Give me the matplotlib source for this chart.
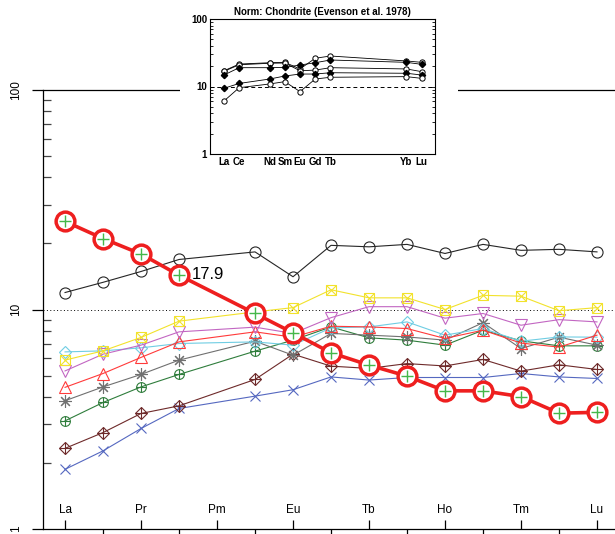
import matplotlib.pyplot as plt
from matplotlib.patches import Rectangle
from matplotlib.ticker import LogLocator, NullFormatter

plt.rcParams['font.family'] = ['Liberation Sans', 'DejaVu Sans']

# REE series; Pm is not analysed so it only gets a tick
elements = ['La', 'Ce', 'Pr', 'Nd', 'Pm', 'Sm', 'Eu', 'Gd', 'Tb', 'Dy', 'Ho', 'Er', 'Tm', 'Yb', 'Lu']
analysed = ['La', 'Ce', 'Pr', 'Nd', 'Sm', 'Eu', 'Gd', 'Tb', 'Dy', 'Ho', 'Er', 'Tm', 'Yb', 'Lu']
labelled = ['La', 'Pr', 'Pm', 'Eu', 'Tb', 'Ho', 'Tm', 'Lu']

# chondrite-normalised values, one list per sample (order = analysed)
s_black = [11.95, 13.3, 14.9, 16.9, 18.3, 14.1, 19.6, 19.3, 19.8, 18.0, 19.8, 18.6, 18.8, 18.3]
s_yellow = [5.88, 6.48, 7.46, 8.85, 9.75, 10.2, 12.3, 11.3, 11.3, 10.0, 11.6, 11.5, 9.87, 10.2]
s_magenta = [5.25, 6.26, 6.88, 7.91, 8.31, 7.78, 9.18, 10.3, 10.3, 9.13, 9.59, 8.48, 8.99, 8.78]
s_red = [4.42, 5.11, 6.05, 7.12, 7.91, 7.48, 8.39, 8.33, 8.19, 7.38, 8.05, 7.03, 6.74, 7.64]
s_cyan = [6.41, 6.48, 6.69, 7.0, 7.12, 6.88, 8.25, 8.33, 8.78, 7.64, 8.19, 7.17, 7.5, 7.48]
s_gray = [3.84, 4.44, 5.06, 5.88, 7.17, 6.19, 7.78, 7.64, 7.5, 7.25, 8.71, 6.64, 7.48, 6.88]
s_green = [3.11, 3.77, 4.44, 5.06, 6.46, 7.25, 8.33, 7.43, 7.25, 6.88, 8.05, 7.2, 6.83, 6.83]
s_maroon = [2.33, 2.75, 3.36, 3.64, 4.8, 6.26, 5.52, 5.39, 5.67, 5.53, 5.92, 5.24, 5.6, 5.33]
s_blue = [1.87, 2.27, 2.87, 3.54, 4.03, 4.31, 4.93, 4.77, 4.9, 4.9, 4.9, 5.11, 4.93, 4.85]
s_hl = [25.2, 21.05, 17.9, 14.33, 9.59, 7.83, 6.35, 5.58, 4.97, 4.26, 4.26, 4.01, 3.37, 3.4]

# small reference diagram (Evensen chondrite)
ins_labels = ['La', 'Ce', 'Nd', 'Sm', 'Eu', 'Gd', 'Tb', 'Yb', 'Lu']
ins_pos = [0, 1, 3, 4, 5, 6, 7, 12, 13]
ins_a = [17.1, 21.5, 22.5, 22.8, 18.2, 26.2, 28.3, 23.9, 22.8]
ins_b = [14.8, 19.0, 19.0, 19.2, 20.8, 22.5, 24.7, 22.8, 21.3]
ins_c = [9.4, 11.1, 12.9, 14.3, 15.3, 15.3, 16.0, 15.7, 14.8]
ins_d = [6.1, 9.6, 10.9, 11.8, 8.4, 12.9, 13.7, 14.0, 13.2]
ins_e = [16.8, 21.0, 22.1, 22.3, 17.1, 17.5, 19.0, 18.2, 16.6]

x_of = {el: i for i, el in enumerate(elements)}
xs = [x_of[el] for el in analysed]

fig = plt.figure(figsize=(6.15, 5.34), dpi=100)
ax = fig.add_axes([43 / 615, 5 / 534, 592 / 615, 439 / 534])
ax.set_yscale('log')
ax.set_ylim(1, 100)
ax.set_xlim(-0.58, 15.0)
for sp in ax.spines.values():
    sp.set_linewidth(0.9)

ax.set_yticks([1, 10, 100])
ax.set_yticklabels(['1', '10', '100'])
ax.yaxis.set_minor_locator(LogLocator(base=10, subs=range(2, 10)))
ax.yaxis.set_minor_formatter(NullFormatter())
ax.tick_params(axis='y', which='major', direction='out', length=8, width=0.9,
               labelsize=8.5, labelrotation=90, pad=7)
ax.tick_params(axis='y', which='minor', direction='in', length=6, width=0.9, color='#444444')
for lab in ax.get_yticklabels():
    lab.set_verticalalignment('center')

ax.set_xticks([x_of[e] for e in labelled])
ax.set_xticklabels(labelled)
ax.set_xticks([x_of[e] for e in elements if e not in labelled], minor=True)
ax.tick_params(axis='x', which='major', direction='in', length=6.5, width=0.9,
               labelsize=8.5, pad=-18)
ax.tick_params(axis='x', which='minor', direction='out', length=4, width=0.9)

ax.axhline(10, color='black', lw=0.7, ls=(0, (1, 2.5)), zorder=1)


def spider(vals, color, marker, ms, extra=None, extra_ms=None, z=2):
    ax.plot(xs, vals, color=color, lw=0.8, marker=marker, ms=ms, mfc='none',
            mec=color, mew=0.8, zorder=z)
    if extra:
        ax.plot(xs, vals, ls='none', marker=extra, ms=extra_ms, mec=color, mew=0.8, zorder=z)


spider(s_blue, '#5568c0', 'x', 7)
spider(s_maroon, '#6e2a2a', 'D', 6, '+', 8)
spider(s_green, '#2f7d3c', 'o', 7, '+', 7)
spider(s_gray, '#707070', (8, 2, 0), 9)
spider(s_cyan, '#6fcde3', 'D', 6)
spider(s_red, '#ff3a3a', '^', 8)
spider(s_magenta, '#c266c2', 'v', 8)
spider(s_yellow, '#f2e22c', 's', 7, 'x', 7)
spider(s_black, '#262626', 'o', 8)

# highlighted sample: thin green trace under a thick red one
ax.plot(xs, s_hl, color='#45b84a', lw=0.6, zorder=9)
ax.plot(xs, s_hl, color='#ee1f1f', lw=2.6, zorder=10)
ax.plot(xs, s_hl, ls='none', marker='o', ms=13.5, mfc='white', mec='#ee1f1f', mew=2.5, zorder=11)
ax.plot(xs, s_hl, ls='none', marker='+', ms=9, mec='#45b84a', mew=1.0, zorder=12)
ax.annotate(f'{s_hl[2]:g}', xy=(xs[2], s_hl[2]), xytext=(36.5, -15), textcoords='offset points',
            fontsize=12, ha='left', va='center', zorder=13)

# white block behind the inset
fig.add_artist(Rectangle((180 / 615, 362 / 534), 278 / 615, 172 / 534, transform=fig.transFigure,
                         facecolor='white', edgecolor='none', zorder=2))

ins = fig.add_axes([210 / 615, 380 / 534, 225 / 615, 135 / 534], zorder=3)
ins.set_yscale('log')
ins.set_ylim(1, 100)
ins.set_xlim(-0.92, 13.88)
ins.set_yticks([1, 10, 100])
ins.set_yticklabels(['1', '10', '100'], fontweight='bold')
ins.yaxis.set_minor_locator(LogLocator(base=10, subs=range(2, 10)))
ins.yaxis.set_minor_formatter(NullFormatter())
ins.set_xticks(ins_pos)
ins.set_xticklabels(ins_labels, fontweight='bold')
ins.tick_params(which='both', direction='in', right=True, labelsize=7, width=0.6, pad=2)
ins.tick_params(which='major', length=3)
ins.tick_params(which='minor', length=2)
ins.tick_params(axis='x', length=0)
for sp in ins.spines.values():
    sp.set_linewidth(0.8)
ins.set_title('Norm: Chondrite (Evenson et al. 1978)', fontsize=7, fontweight='bold', pad=3)
ins.axhline(10, color='black', lw=0.7, ls=(0, (4, 3)))

for vals, filled in [(ins_a, False), (ins_e, False), (ins_b, True), (ins_c, True), (ins_d, False)]:
    if filled:
        ins.plot(ins_pos, vals, color='black', lw=0.6, marker='D', ms=3.2, mfc='black', mec='black')
    else:
        ins.plot(ins_pos, vals, color='black', lw=0.6, marker='o', ms=3.8, mfc='white',
                 mec='black', mew=0.7)

fig.savefig('out.png', dpi=100)
